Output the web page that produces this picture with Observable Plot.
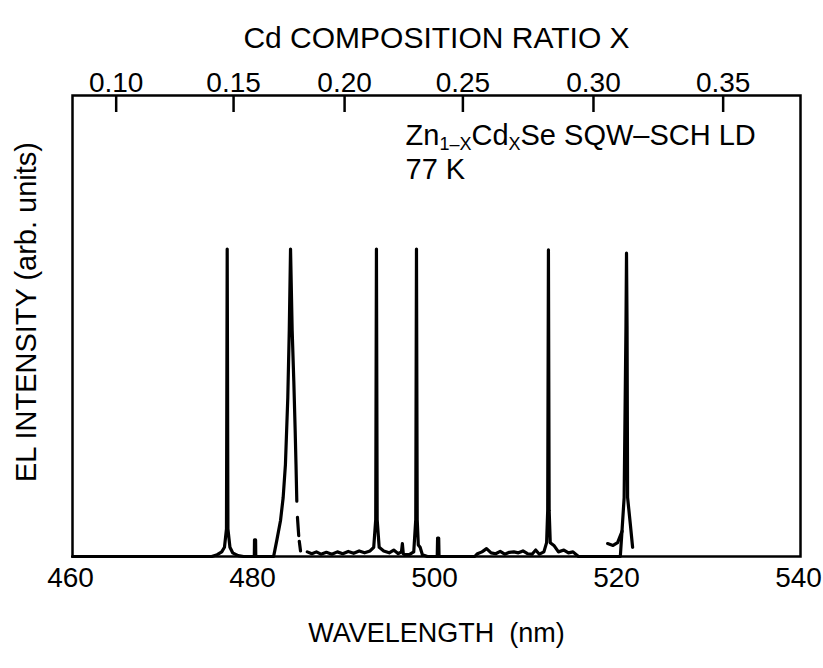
<!DOCTYPE html>
<html>
<head>
<meta charset="utf-8">
<script src="https://cdn.jsdelivr.net/npm/d3@7"></script>
<script src="https://cdn.jsdelivr.net/npm/@observablehq/plot@0.6"></script>
<style>
  html, body { margin: 0; padding: 0; background: #fff; color: #000; }
  #chart { width: 823px; height: 668px; }
</style>
</head>
<body>
<div id="chart"></div>
<script>
// ---- Text ----
const titleText = "Cd COMPOSITION RATIO X";
const xLabelText = "WAVELENGTH \u00A0(nm)";
const yLabelText = "EL INTENSITY (arb. units)";
const annotationLine1 = "Zn1-XCdXSe SQW-SCH LD";
const annotationLine2 = "77 K";

// ---- Axes ----
const wavelengthTicks = [460, 480, 500, 520, 540];
const compositionLabels = ["0.10", "0.15", "0.20", "0.25", "0.30", "0.35"];
const compositionWavelengths = [464.8, 477.7, 489.9, 502.9, 517.25, 531.5];

// ---- Spectrum traces (wavelength nm, intensity arb.) ----
const traceMainWl = [460, 475.3, 475.9, 476.4, 476.7, 476.92, 477.0, 477.08, 477.3, 477.6, 478.2, 478.8,
  479.98, 480.0, 480.12, 480.14, 482.1, 482.25, 482.45, 482.86, 483.15, 483.4, 483.66, 483.82, 483.96,
  484.14, 484.32, 484.47, 484.56, 484.65];
const traceMainInt = [0, 0, 0.004, 0.01, 0.02, 0.06, 0.667, 0.06, 0.02, 0.008, 0.002, 0,
  0, 0.036, 0.036, 0, 0, 0.015, 0.035, 0.078, 0.128, 0.2, 0.345, 0.49, 0.667,
  0.49, 0.38, 0.273, 0.2, 0.12];

const traceDash1Wl = [484.72, 484.86];
const traceDash1Int = [0.085, 0.045];
const traceDash2Wl = [484.92, 485.06];
const traceDash2Int = [0.033, 0.012];

const traceLongWl = [485.8, 486.3, 486.8, 487.3, 487.9, 488.5, 489.1, 489.7, 490.3, 490.9, 491.5, 492.1, 492.7,
  493.1, 493.32, 493.4, 493.48, 493.7, 494.2, 494.8, 495.3, 495.8, 496.15, 496.25, 496.35, 496.5, 497.0,
  497.5, 497.72, 497.8, 497.88, 498.0, 498.2, 498.45, 499.0, 500.08, 500.12, 500.24, 500.28, 504.2,
  504.5, 505.0, 505.5, 506.0, 506.5, 507.0, 507.5, 508.0, 508.5, 509.0, 509.5, 510.0, 510.5, 510.9,
  511.3, 511.8, 512.1, 512.22, 512.3, 512.38, 512.5, 512.9, 513.4, 514.0, 514.5, 515.0, 515.6,
  520.2, 520.4, 520.62, 520.82, 520.88, 520.94, 521.0, 521.3, 521.55];
const traceLongInt = [0.01, 0.006, 0.01, 0.005, 0.009, 0.005, 0.01, 0.006, 0.011, 0.007, 0.012, 0.008, 0.012,
  0.02, 0.08, 0.667, 0.08, 0.02, 0.012, 0.008, 0.014, 0.006, 0.01, 0.028, 0.006, 0.004, 0.004,
  0.01, 0.08, 0.667, 0.08, 0.025, 0.02, 0.004, 0, 0, 0.04, 0.04, 0, 0,
  0.006, 0.01, 0.017, 0.008, 0.006, 0.011, 0.005, 0.009, 0.01, 0.008, 0.012, 0.006, 0.005, 0.014,
  0.005, 0.01, 0.03, 0.1, 0.665, 0.1, 0.03, 0.024, 0.01, 0.014, 0.008, 0.01, 0,
  0, 0.06, 0.128, 0.5, 0.658, 0.5, 0.128, 0.07, 0.02];

const traceHookWl = [518.8, 519.4, 519.9, 520.4];
const traceHookInt = [0.028, 0.024, 0.03, 0.055];

const traces = [
  ["main", traceMainWl, traceMainInt],
  ["dash1", traceDash1Wl, traceDash1Int],
  ["dash2", traceDash2Wl, traceDash2Int],
  ["long", traceLongWl, traceLongInt],
  ["hook", traceHookWl, traceHookInt]
];
const spectrum = traces.flatMap(([id, wl, vals]) => wl.map((w, i) => ({piece: id, wl: w, int: vals[i]})));

const compLabelMap = new Map(compositionWavelengths.map((w, i) => [w, compositionLabels[i]]));

const chart = Plot.plot({
  width: 823,
  height: 668,
  marginLeft: 72,
  marginRight: 23,
  marginTop: 95,
  marginBottom: 112,
  style: {fontFamily: "'Liberation Sans', Arial, Helvetica, sans-serif", color: "#000", background: "#fff", overflow: "visible"},
  x: {domain: [460, 540]},
  y: {domain: [0, 1], axis: null},
  marks: [
    Plot.frame({strokeWidth: 2.5}),
    Plot.axisX({anchor: "bottom", ticks: wavelengthTicks, tickSize: 0, tickPadding: 11, fontSize: 28, label: null, dx: -2}),
    Plot.axisX({anchor: "top", ticks: compositionWavelengths, tickFormat: d => compLabelMap.get(d), tickSize: 0, tickPadding: 4, fontSize: 28, label: null}),
    Plot.ruleX(compositionWavelengths, {insetBottom: 444, strokeWidth: 2.5}),
    Plot.line(spectrum, {x: "wl", y: "int", z: "piece", stroke: "#000", strokeWidth: 3.2, strokeLinejoin: "round", strokeLinecap: "round"}),
    Plot.text([titleText], {frameAnchor: "top", dy: -68.5, fontSize: 30}),
    Plot.text([xLabelText], {frameAnchor: "bottom", dy: 85.4, fontSize: 27}),
    Plot.text([yLabelText], {frameAnchor: "left", textAnchor: "middle", rotate: -90, dx: -46, dy: -14, fontSize: 29}),
    Plot.text([annotationLine1], {x: 496.6, y: 0.912, textAnchor: "start", fontSize: 29}),
    Plot.text([annotationLine2], {x: 496.6, y: 0.840, textAnchor: "start", fontSize: 29})
  ]
});

// Subscripts for the annotation formula
chart.querySelectorAll("text").forEach(t => {
  if (t.textContent === annotationLine1) {
    t.textContent = "";
    const parts = [["Zn", false], ["1\u2013X", true], ["Cd", false], ["X", true], ["Se SQW\u2013SCH LD", false]];
    let shifted = false;
    parts.forEach(([s, sub]) => {
      const ts = document.createElementNS("http://www.w3.org/2000/svg", "tspan");
      ts.textContent = s;
      if (sub) { ts.setAttribute("font-size", "18"); if (!shifted) { ts.setAttribute("dy", "5"); shifted = true; } }
      else if (shifted) { ts.setAttribute("dy", "-5"); shifted = false; }
      t.appendChild(ts);
    });
  }
});

document.getElementById("chart").appendChild(chart);
</script>
</body>
</html>
